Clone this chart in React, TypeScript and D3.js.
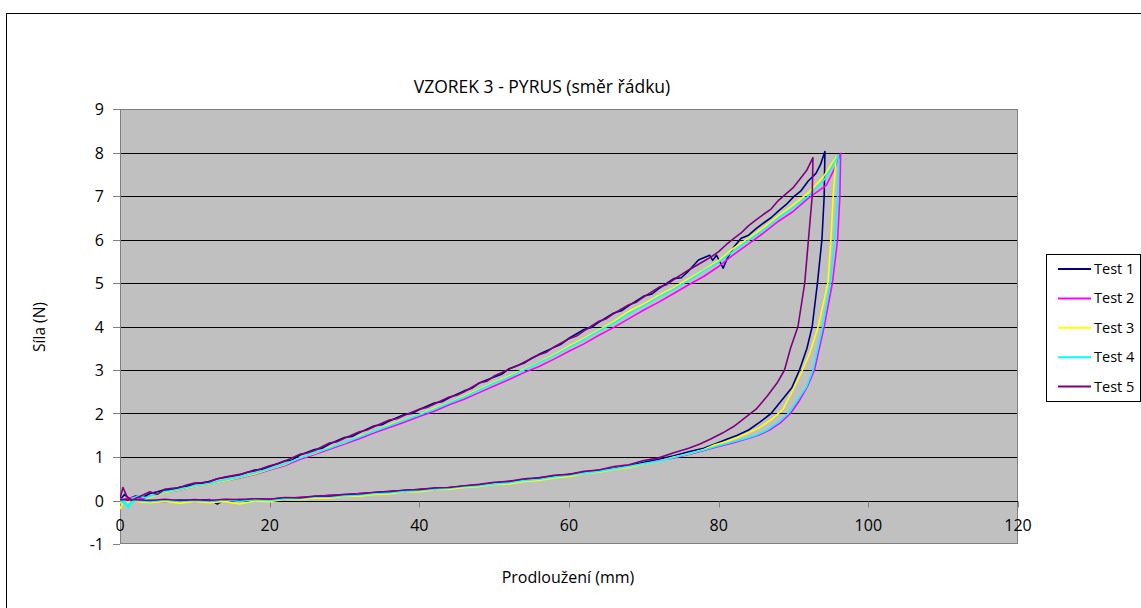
import React from "react";
import * as d3 from "d3";

type P = [number, number];

const seriesNames = ["Test 1", "Test 2", "Test 3", "Test 4", "Test 5"];
const seriesColors = ["#000080", "#FF00FF", "#FFFF00", "#00FFFF", "#800080"];
const xTicks = [0, 20, 40, 60, 80, 100, 120];
const yTicks = [-1, 0, 1, 2, 3, 4, 5, 6, 7, 8, 9];

const test1: P[] = [
  [0,0.02],[0.6,0.14],[1.2,0.04],[2,0.1],[3,0.07],[4,0.16],[5,0.2],[6,0.25],[7,0.24],[8,0.31],[9,0.33],[10,0.39],[11,0.4],[12,0.44],[13,0.5],[14,0.53],[16,0.59],[18,0.7],[19,0.72],[20,0.78],[22,0.91],[23,0.93],[24,1.04],[26,1.17],[27,1.2],[28,1.3],[30,1.45],[31,1.47],[32,1.56],[34,1.72],[35,1.74],[36,1.83],[38,1.98],[39,2.0],[40,2.09],[42,2.24],[43,2.27],[44,2.36],[46,2.52],[47,2.58],[48,2.7],[50,2.84],[51,2.9],[52,3.03],[54,3.16],[55,3.27],[56,3.36],[58,3.52],[59,3.6],[60,3.73],[62,3.93],[63,3.98],[64,4.1],[66,4.31],[67,4.36],[68,4.48],[70,4.7],[71,4.74],[72,4.87],[74,5.1],[75,5.12],[76,5.28],[77.3,5.53],[78.8,5.64],[79.2,5.52],[79.7,5.64],[80.6,5.34],[81.1,5.55],[82,5.82],[83,6.03],[84,6.1],[85,6.25],[86,6.38],[87,6.5],[88,6.66],[89,6.8],[90,6.98],[91,7.12],[92,7.35],[93,7.52],[93.6,7.72],[94.2,8.02],
  [94.1,7.0],[93.8,6.0],[93.2,5.0],[92.5,4.0],[91.8,3.5],[90.8,3.0],[89.8,2.6],[88.4,2.3],[87,2.0],[85.5,1.8],[84,1.62],[82.5,1.5],[81,1.4],[79.5,1.3],[78,1.2],[76,1.12],[74,1.03],[72,0.95],[70,0.88],[68,0.8],[66,0.74],[64,0.7],[62,0.64],[60,0.6],[58,0.56],[56,0.52],[54,0.47],[52,0.44],[50,0.4],[48,0.36],[46,0.33],[44,0.3],[42,0.27],[40,0.26],[38,0.23],[36,0.21],[34,0.18],[32,0.16],[30,0.13],[28,0.12],[26,0.09],[24,0.07],[22,0.06],[20,0.03],[18,0.04],[16,0.0],[14,0.02],[13,-0.08],[12,0.02],[10,0.0],[8,0.01],[6,-0.02],[4,0.0],[2,0.02],[0,0]
];

const test2: P[] = [
  [0,0.0],[1,0.05],[2,0.08],[3,0.03],[4,0.1],[5,0.12],[6,0.18],[8,0.24],[10,0.32],[12,0.38],[14,0.45],[16,0.52],[18,0.6],[20,0.7],[22,0.8],[24,0.94],[26,1.06],[28,1.18],[30,1.3],[32,1.42],[34,1.56],[36,1.68],[38,1.8],[40,1.93],[42,2.05],[44,2.2],[46,2.33],[48,2.48],[50,2.63],[52,2.78],[54,2.94],[56,3.08],[58,3.25],[60,3.43],[62,3.6],[64,3.8],[66,3.98],[68,4.18],[70,4.38],[72,4.56],[74,4.76],[76,4.96],[78,5.15],[80,5.38],[82,5.65],[84,5.9],[86,6.15],[88,6.42],[90,6.65],[92,6.95],[94.4,7.25],[95.4,7.6],[96.3,7.98],
  [96.2,7.0],[95.9,6.0],[95.2,5.0],[94.1,4.0],[92.8,3.0],[91.8,2.6],[90.8,2.3],[89.6,2.0],[88.2,1.78],[86.8,1.62],[85.3,1.5],[83.8,1.42],[82,1.33],[80,1.24],[78,1.15],[76,1.06],[74,0.98],[72,0.92],[70,0.84],[68,0.8],[66,0.72],[64,0.7],[62,0.63],[60,0.6],[58,0.53],[56,0.5],[54,0.45],[52,0.42],[50,0.38],[48,0.36],[46,0.31],[44,0.3],[42,0.25],[40,0.25],[38,0.2],[36,0.2],[34,0.15],[32,0.16],[30,0.1],[28,0.12],[26,0.06],[24,0.08],[22,0.02],[20,0.04],[18,0.0],[16,0.03],[14,-0.02],[12,0.01],[10,-0.03],[8,0.0],[6,-0.04],[4,0.0],[2,-0.03],[0,0.0]
];

const test3: P[] = [
  [0,-0.2],[0.5,0.0],[1,-0.05],[2,0.05],[3,-0.02],[4,0.08],[5,0.12],[6,0.18],[8,0.25],[10,0.32],[12,0.38],[14,0.45],[16,0.53],[18,0.61],[20,0.72],[22,0.82],[24,0.98],[26,1.08],[28,1.22],[30,1.33],[32,1.48],[34,1.6],[36,1.74],[38,1.86],[40,1.98],[42,2.12],[44,2.25],[46,2.4],[48,2.56],[50,2.72],[52,2.86],[54,3.02],[56,3.18],[58,3.35],[60,3.55],[62,3.73],[64,3.92],[66,4.12],[68,4.35],[70,4.52],[72,4.72],[74,4.9],[76,5.1],[78,5.3],[80,5.52],[82,5.8],[84,6.03],[86,6.28],[88,6.55],[90,6.8],[92,7.08],[94,7.44],[95,7.72],[95.7,7.9],
  [95.3,7.0],[95.0,6.0],[94.6,5.0],[93.3,4.0],[92.2,3.4],[91.2,3.0],[89.8,2.5],[88.6,2.1],[87.2,1.88],[85.5,1.68],[84,1.56],[82.5,1.45],[81,1.35],[79.5,1.28],[78,1.17],[76,1.07],[74,1.0],[72,0.9],[70,0.84],[68,0.76],[66,0.72],[64,0.65],[62,0.62],[60,0.55],[58,0.52],[56,0.46],[54,0.44],[52,0.38],[50,0.37],[48,0.32],[46,0.3],[44,0.26],[42,0.25],[40,0.2],[38,0.2],[36,0.15],[34,0.14],[32,0.1],[30,0.1],[28,0.05],[26,0.06],[24,0.02],[22,0.03],[20,-0.03],[18,-0.01],[16,-0.08],[14,-0.02],[12,-0.05],[10,-0.02],[8,-0.06],[6,-0.02],[4,-0.05],[2,-0.02],[0,-0.05]
];

const test4: P[] = [
  [0,0.05],[0.8,-0.05],[1.1,-0.18],[1.6,0.05],[2.5,0.1],[3.5,0.06],[4,0.1],[5,0.14],[6,0.2],[8,0.26],[10,0.34],[12,0.39],[14,0.47],[16,0.54],[18,0.63],[20,0.73],[22,0.84],[24,0.97],[26,1.1],[28,1.2],[30,1.34],[32,1.46],[34,1.6],[36,1.72],[38,1.85],[40,1.97],[42,2.1],[44,2.24],[46,2.38],[48,2.54],[50,2.7],[52,2.84],[54,3.0],[56,3.17],[58,3.33],[60,3.52],[62,3.7],[64,3.9],[66,4.08],[68,4.3],[70,4.48],[72,4.68],[74,4.86],[76,5.06],[78,5.28],[80,5.48],[82,5.74],[84,5.98],[86,6.22],[88,6.5],[90,6.74],[92,7.0],[94,7.35],[95,7.62],[96.0,7.94],
  [95.9,7.0],[95.5,6.0],[94.9,5.0],[93.9,4.0],[92.6,3.0],[91.7,2.6],[90.5,2.3],[89.3,2.0],[88,1.8],[86.5,1.62],[85,1.5],[83.5,1.42],[82,1.35],[80,1.26],[78,1.16],[76,1.08],[74,0.99],[72,0.9],[70,0.85],[68,0.78],[66,0.73],[64,0.67],[62,0.63],[60,0.58],[58,0.54],[56,0.49],[54,0.46],[52,0.41],[50,0.38],[48,0.34],[46,0.32],[44,0.28],[42,0.26],[40,0.23],[38,0.21],[36,0.18],[34,0.16],[32,0.13],[30,0.11],[28,0.08],[26,0.08],[24,0.04],[22,0.04],[20,0.0],[18,0.02],[16,-0.02],[14,0.02],[12,-0.02],[10,0.0],[8,-0.02],[6,0.01],[4,-0.03],[2,0.0],[1,-0.12],[0,0.0]
];

const test5: P[] = [
  [0,0.05],[0.4,0.3],[0.9,0.1],[1.5,0.0],[2.5,0.08],[4,0.2],[5,0.14],[6,0.26],[7,0.28],[8,0.3],[9,0.36],[10,0.4],[11,0.41],[12,0.43],[13,0.5],[14,0.54],[16,0.6],[17,0.65],[18,0.68],[20,0.8],[21,0.84],[22,0.9],[24,1.06],[25,1.09],[26,1.15],[28,1.32],[29,1.35],[30,1.43],[32,1.58],[33,1.62],[34,1.7],[36,1.85],[37,1.88],[38,1.96],[40,2.1],[41,2.14],[42,2.22],[44,2.38],[45,2.42],[46,2.5],[48,2.7],[49,2.74],[50,2.86],[52,3.02],[53,3.09],[54,3.18],[56,3.35],[57,3.41],[58,3.53],[60,3.72],[61,3.78],[62,3.9],[64,4.12],[65,4.18],[66,4.3],[68,4.5],[69,4.56],[70,4.68],[72,4.9],[73,4.96],[74,5.08],[76,5.3],[78,5.5],[79,5.6],[80,5.72],[81,5.88],[82,6.02],[83,6.15],[84,6.32],[85,6.45],[86,6.58],[87,6.7],[88,6.9],[89,7.05],[90,7.2],[91,7.42],[91.8,7.6],[92.6,7.88],
  [92.5,7.0],[92.0,6.0],[91.5,5.0],[90.6,4.0],[89.6,3.5],[88.8,3.0],[87.8,2.7],[86.5,2.4],[85,2.1],[83.5,1.9],[82,1.7],[80.5,1.55],[79,1.42],[77.5,1.3],[76,1.2],[74,1.1],[72,0.98],[70,0.92],[68,0.82],[66,0.78],[64,0.7],[62,0.67],[60,0.6],[58,0.58],[56,0.52],[54,0.5],[52,0.44],[50,0.42],[48,0.37],[46,0.34],[44,0.3],[42,0.29],[40,0.25],[38,0.24],[36,0.2],[34,0.19],[32,0.15],[30,0.14],[28,0.1],[26,0.1],[24,0.06],[22,0.07],[20,0.03],[18,0.04],[16,0.02],[14,0.03],[12,0.0],[10,0.02],[8,0.0],[6,0.03],[4,0.0],[2,0.02],[0,0.02]
];

const allSeries = [test1, test2, test3, test4, test5];

const FONT = "'Open Sans', 'Noto Sans', sans-serif";

export default function App() {
  const left = 120, right = 1018, top = 109, bottom = 544;
  const x = d3.scaleLinear().domain([0, 120]).range([left, right]);
  const y = d3.scaleLinear().domain([-1, 9]).range([bottom, top]);
  const line = d3.line<P>().x(d => x(d[0])).y(d => y(d[1]));
  const y0 = Math.round(y(0)) + 0.5;

  return (
    <svg width={1141} height={608} style={{ position: "absolute", left: 0, top: 0, background: "#fff" }} fontFamily={FONT}>
      <defs>
        <clipPath id="plotclip">
          <rect x={left} y={top} width={right - left} height={bottom - top} />
        </clipPath>
      </defs>
      <rect x={6.5} y={13.5} width={1300} height={700} fill="#fff" stroke="#000" strokeWidth={1} />
      <text x={542} y={93} textAnchor="middle" fontSize={17.5} fill="#000">VZOREK 3 - PYRUS (směr řádku)</text>
      <rect x={left} y={top} width={right - left} height={bottom - top} fill="#C0C0C0" />
      {yTicks.filter(t => t > -1 && t < 9 && t !== 0).map(t => (
        <line key={t} x1={left} x2={right} y1={Math.round(y(t)) + 0.5} y2={Math.round(y(t)) + 0.5} stroke="#000" strokeWidth={1} />
      ))}
      <rect x={left + 0.5} y={top + 0.5} width={right - left - 1} height={bottom - top - 1} fill="none" stroke="#808080" strokeWidth={1} />
      {yTicks.map(t => (
        <g key={t}>
          <line x1={left - 7} x2={left} y1={Math.round(y(t)) + 0.5} y2={Math.round(y(t)) + 0.5} stroke="#808080" />
          <text x={104} y={y(t) + 6} textAnchor="end" fontSize={16} fill="#000">{t}</text>
        </g>
      ))}
      <line x1={left} x2={right} y1={y0} y2={y0} stroke="#000" strokeWidth={1} />
      {xTicks.map(t => (
        <g key={t}>
          <line x1={Math.round(x(t)) + 0.5} x2={Math.round(x(t)) + 0.5} y1={y0} y2={y0 + 6} stroke="#808080" />
          <text x={x(t)} y={531} textAnchor="middle" fontSize={16} fill="#000">{t}</text>
        </g>
      ))}
      <g clipPath="url(#plotclip)">
        {allSeries.map((s, i) => (
          <path key={i} d={line(s) || ""} fill="none" stroke={seriesColors[i]} strokeWidth={1.6} strokeLinejoin="round" />
        ))}
      </g>
      <text x={568} y={583} textAnchor="middle" fontSize={16} fill="#000">Prodloužení (mm)</text>
      <text transform={`translate(45,327) rotate(-90)`} textAnchor="middle" fontSize={15.5} fill="#000">Síla (N)</text>
      <rect x={1046.5} y={254.5} width={94} height={147} fill="#fff" stroke="#000" strokeWidth={1} />
      {seriesNames.map((n, i) => {
        const ly = 269 + i * 29.4;
        return (
          <g key={n}>
            <line x1={1058} x2={1091} y1={ly} y2={ly} stroke={seriesColors[i]} strokeWidth={2} />
            <text x={1094} y={ly + 5} fontSize={14.5} fill="#000">{n}</text>
          </g>
        );
      })}
    </svg>
  );
}
